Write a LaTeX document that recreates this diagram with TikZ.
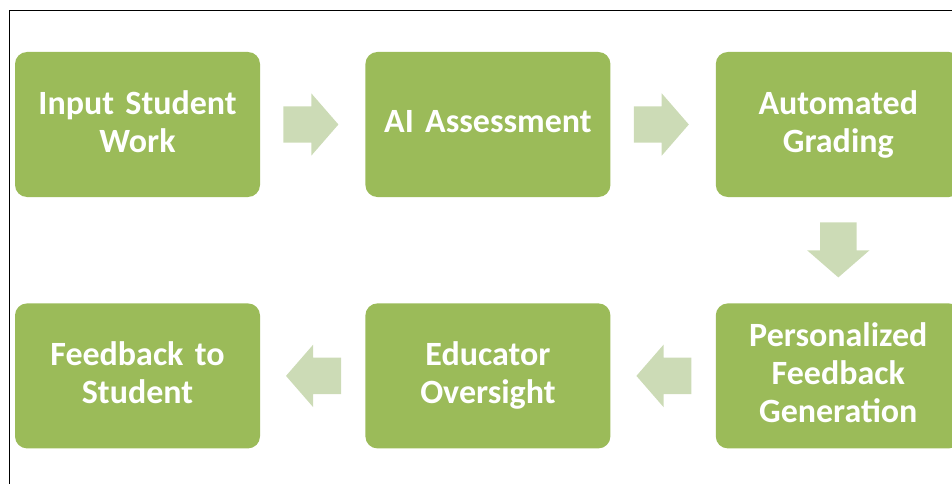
\documentclass[tikz,border=0pt]{standalone}
\usepackage{fontspec}
\setmainfont{Carlito}
\usetikzlibrary{positioning, shapes.arrows}

\definecolor{green1}{RGB}{155,187,89}
\definecolor{green2}{RGB}{204,219,182}
\tikzstyle{block} = [fill=green1, rectangle, text centered, text width=7.4cm, minimum width=245pt, minimum height=145pt, rounded corners=12pt, text=white, font=\fontsize{34pt}{38pt}\selectfont\bfseries, execute at end node={\rule[-6pt]{0pt}{6pt}}]
\tikzstyle{flow} = [single arrow, fill=green2, draw=none, anchor=tail, minimum height=55pt, inner xsep=0pt, inner ysep=18pt, single arrow head extend=13pt, single arrow tip angle=98]

\begin{document}
\begin{tikzpicture}[node distance=105pt, auto]
  \useasboundingbox (0,0) rectangle (952pt,-484pt);
  \draw [line width=1pt] (9.5pt,-484pt) |- (952pt,-10.5pt);

  \node [block] (input) at (137.5pt,-124.5pt) {Input Student\\Work};
  \node [block, right=of input] (assessment) {AI Assessment};
  \node [block, right=of assessment] (grading) {Automated\\Grading};

  \node [block, below=106pt of grading] (personal) {Personalized\\Feedback\\Generation};
  \node [block, left=of personal] (educator) {Educator\\Oversight};
  \node [block, left=of educator] (student) {Feedback to\\Student};

  \node [flow] (f1) at ([xshift=23pt]input.east) {};
  \node [flow] (f2) at ([xshift=23pt]assessment.east) {};
  \node [flow, rotate=-90] (f3) at ([yshift=-25pt]grading.south) {};
  \node [flow, rotate=180] (f4) at ([xshift=-24pt]personal.west) {};
  \node [flow, rotate=180] (f5) at ([xshift=-24pt]educator.west) {};
\end{tikzpicture}
\end{document}
